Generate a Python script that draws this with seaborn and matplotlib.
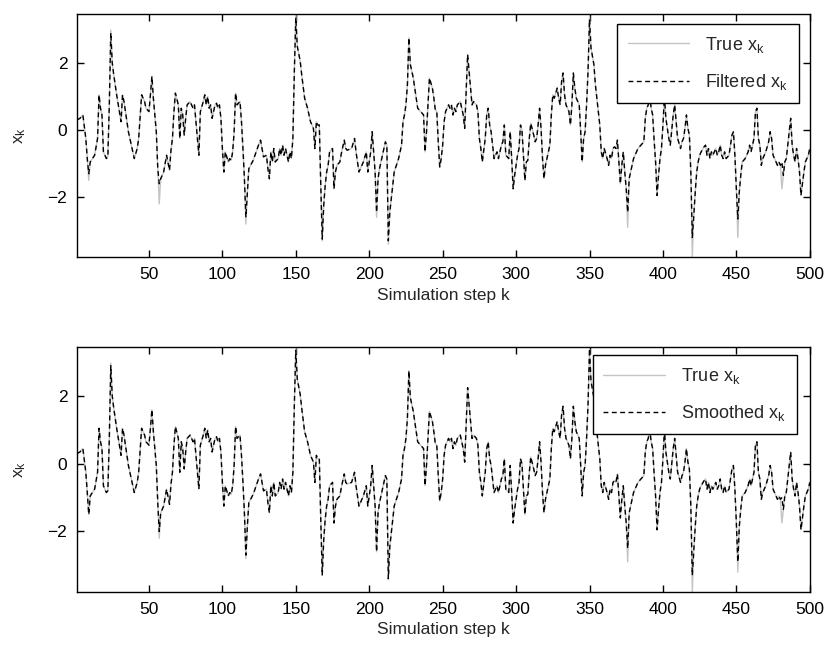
import matplotlib
matplotlib.use("Agg")
import matplotlib.pyplot as plt
import seaborn as sns
import pandas as pd

steps = [
    1, 3, 5, 7, 8, 9, 10, 13, 15, 16,
    17, 18, 19, 21, 22, 23, 24, 25, 26, 28,
    31, 32, 33, 34, 36, 39, 40, 42, 43, 45,
    47, 48, 50, 51, 52, 53, 55, 56, 57, 58,
    60, 62, 64, 65, 66, 67, 68, 70, 71, 72,
    73, 74, 75, 76, 78, 79, 80, 81, 82, 83,
    84, 85, 87, 88, 89, 90, 91, 92, 93, 95,
    96, 97, 98, 99, 100, 101, 102, 104, 105, 106,
    107, 108, 109, 110, 112, 113, 114, 115, 116, 117,
    118, 121, 123, 125, 126, 128, 130, 131, 132, 133,
    134, 135, 136, 138, 139, 140, 141, 142, 143, 145,
    146, 147, 148, 149, 150, 151, 153, 154, 156, 158,
    160, 162, 163, 164, 165, 166, 167, 168, 169, 170,
    171, 172, 173, 175, 176, 177, 178, 180, 181, 183,
    184, 185, 188, 190, 191, 192, 193, 196, 198, 199,
    201, 202, 204, 205, 206, 207, 209, 211, 212, 213,
    214, 216, 217, 220, 222, 223, 224, 225, 226, 227,
    228, 230, 231, 232, 233, 235, 237, 238, 239, 240,
    241, 243, 244, 245, 246, 247, 248, 249, 250, 251,
    252, 254, 255, 256, 257, 258, 259, 260, 262, 263,
    264, 265, 266, 267, 268, 269, 270, 271, 273, 274,
    275, 276, 277, 279, 280, 281, 282, 283, 284, 285,
    287, 288, 289, 290, 291, 292, 293, 295, 296, 297,
    298, 299, 300, 301, 302, 303, 304, 305, 306, 307,
    308, 309, 310, 312, 313, 314, 315, 316, 317, 318,
    319, 320, 321, 323, 324, 325, 326, 328, 329, 330,
    331, 332, 333, 334, 336, 337, 338, 339, 340, 341,
    343, 344, 345, 346, 347, 348, 349, 350, 351, 353,
    354, 356, 357, 358, 359, 360, 362, 363, 364, 365,
    366, 367, 368, 369, 370, 371, 372, 373, 374, 375,
    376, 377, 379, 380, 381, 383, 385, 387, 388, 389,
    390, 391, 392, 393, 394, 395, 396, 397, 398, 399,
    400, 401, 402, 404, 405, 407, 408, 409, 410, 412,
    413, 414, 415, 416, 417, 418, 419, 420, 421, 422,
    423, 424, 425, 426, 428, 429, 430, 431, 432, 433,
    434, 436, 437, 438, 439, 440, 441, 442, 443, 445,
    446, 447, 448, 449, 450, 451, 452, 453, 454, 456,
    458, 459, 460, 462, 463, 464, 465, 466, 467, 468,
    470, 472, 473, 474, 475, 476, 478, 479, 480, 481,
    482, 483, 484, 485, 486, 487, 488, 489, 490, 491,
    492, 493, 494, 496, 497, 499, 500,
]

x_true = [
    0.3, 0.35, 0.45, -0.25, -0.85, -1.5, -0.95, -0.75, -0.25, 1.05,
    0.65, 0.45, -0.65, -0.85, -0.8, 0.75, 2.98, 2.0, 1.65, 1.05,
    0.25, 1.05, 0.85, 0.55, -0.05, -0.65, -0.85, -0.55, -0.25, 1.05,
    0.85, 0.65, 0.55, 1.05, 1.6, 0.95, -0.05, -1.15, -2.2, -1.45,
    -1.25, -0.75, -1.2, -0.6, -0.25, 0.55, 1.1, 0.75, -0.25, 0.65,
    0.45, -0.15, 0.35, 0.75, 0.85, 0.75, 0.65, 0.75, 0.25, -0.25,
    -0.75, 0.55, 0.85, 1.05, 0.75, 1.0, 0.65, 0.75, 0.35, 0.75,
    0.8, 0.65, 0.75, 0.35, -0.55, -1.25, -0.65, -0.95, -0.85, -0.9,
    -0.65, -0.05, 1.1, 0.75, 0.85, 0.25, -0.55, -1.45, -2.8, -1.85,
    -1.15, -0.9, -0.65, -0.4, -0.3, -0.8, -0.75, -1.15, -1.45, -0.65,
    -0.95, -0.55, -0.95, -0.85, -0.55, -0.75, -0.45, -0.75, -0.55, -0.95,
    -0.65, -0.85, -0.25, 1.75, 3.45, 2.5, 2.05, 1.65, 0.95, 0.65,
    0.25, 0.05, -0.55, 0.25, 0.15, 0.15, -1.65, -3.3, -2.25, -1.65,
    -1.25, -1.05, -0.65, -0.55, -1.75, -1.25, -1.05, -0.95, -0.7, -0.3,
    -0.55, -0.6, -0.55, -0.25, -0.65, -0.95, -1.25, -0.95, -0.65, -1.25,
    -0.65, -0.05, -1.25, -2.6, -1.45, -1.15, -0.75, -0.35, -0.45, -3.4,
    -2.45, -1.65, -1.25, -0.85, -0.45, 0.25, 0.45, 0.75, 1.35, 2.75,
    1.95, 1.55, 1.25, 0.95, 0.65, 0.55, 0.45, -0.65, -0.05, 0.75,
    1.55, 1.25, 0.95, 0.6, 0.55, -0.35, -1.1, -0.85, -0.45, 0.25,
    0.55, 0.75, 0.65, 0.75, 0.45, 0.65, 0.55, 0.75, 0.85, 0.65,
    0.45, 0.05, 1.15, 2.25, 1.75, 1.25, 0.75, 0.85, 0.75, 0.55,
    -0.25, -0.55, -0.95, -0.25, 0.45, 0.65, 0.15, -0.05, -0.45, -0.85,
    -0.65, -0.85, -0.65, -0.45, -0.35, 0.15, -0.75, -0.85, -0.05, -0.85,
    -1.75, -1.35, -1.05, -0.75, -0.55, 0.15, 0.0, -0.75, -1.5, -0.95,
    -0.9, -0.25, 0.2, -0.15, -0.35, -0.25, 0.15, 0.65, 0.05, -0.85,
    -1.45, -1.05, -0.85, -0.45, 0.45, 1.05, 0.95, 1.25, 0.95, 0.75,
    1.45, 1.7, 1.05, 0.75, 0.55, 0.15, 0.75, 1.7, 1.25, 0.95,
    0.75, -0.05, -0.95, -0.25, -0.05, 0.75, 1.75, 3.4, 2.45, 1.95,
    1.35, 0.55, 0.15, -0.65, -0.85, -0.55, -0.85, -1.05, -0.75, -0.85,
    -0.55, -0.5, -0.55, -0.3, -0.95, -1.6, -1.05, -0.65, -1.25, -1.75,
    -2.9, -1.45, -1.05, -0.85, -0.75, -0.55, -0.45, -0.35, 0.35, 0.65,
    0.75, 1.0, 0.65, 0.45, -0.3, -0.95, -1.95, -1.35, -0.85, -0.55,
    0.15, 1.0, 0.35, -0.25, -0.45, 0.45, 0.75, 0.25, -0.25, -0.55,
    -0.35, -0.25, 0.05, 0.45, 0.05, -0.15, -1.25, -3.79, -2.55, -1.85,
    -1.25, -0.95, -0.75, -0.65, -0.5, -0.45, -0.75, -0.55, -0.85, -0.65,
    -0.75, -0.55, -0.75, -0.65, -0.45, -0.75, -0.85, -0.65, -0.85, -0.75,
    -0.45, -0.15, -0.05, -0.75, -1.75, -3.2, -1.85, -1.35, -0.95, -0.85,
    -0.65, -0.45, -0.65, -0.25, 0.55, 0.65, -0.25, -0.45, -1.05, -0.85,
    -0.65, -0.35, -0.05, -0.25, -0.75, -0.85, -1.05, -0.95, -1.05, -1.75,
    -1.35, -0.95, -0.85, -0.45, -0.05, 0.35, -0.45, -0.75, -0.95, -0.55,
    -0.85, -1.25, -1.95, -1.25, -0.95, -0.75, -0.55,
]

# where the estimates visibly part from the true trace (step: value)
filtered_diff = {9: -1.3, 24: 2.9, 57: -1.6, 116: -2.6, 150: 3.35, 168: -3.25,
                 205: -2.45, 213: -3.3, 350: 3.3, 376: -2.45, 420: -3.2,
                 451: -2.65, 481: -0.95}
smoothed_diff = {24: 2.9, 57: -2.0, 116: -2.7, 150: 3.35, 376: -2.5,
                 420: -3.3, 451: -2.9, 481: -1.0}

x_filt = [filtered_diff.get(k, v) for k, v in zip(steps, x_true)]
x_smooth = [smoothed_diff.get(k, v) for k, v in zip(steps, x_true)]

df = pd.DataFrame({"k": steps, "true": x_true, "filt": x_filt, "smooth": x_smooth})

sns.set_theme(style="ticks")
plt.rcParams["font.family"] = ["Liberation Sans Narrow", "Liberation Sans", "DejaVu Sans"]
plt.rcParams["mathtext.default"] = "regular"
plt.rcParams["font.size"] = 12

fig = plt.figure(figsize=(8.28, 6.48), dpi=100)
ax1 = fig.add_axes([0.093, 0.603, 0.885, 0.375])
ax2 = fig.add_axes([0.093, 0.0864, 0.885, 0.378])

panels = [(ax1, "filt", "Filtered x$_k$", (0.985, 0.96)),
          (ax2, "smooth", "Smoothed x$_k$", (0.982, 0.967))]

for ax, col, lab, anchor in panels:
    sns.lineplot(data=df, x="k", y="true", ax=ax, color="#c4c4c4", lw=1.0,
                 estimator=None, sort=False, label="True x$_k$")
    sns.lineplot(data=df, x="k", y=col, ax=ax, color="black", lw=1.0,
                 linestyle=(0, (3.5, 2.5)), estimator=None, sort=False, label=lab)
    ax.set_xlim(1, 500)
    ax.set_ylim(min(x_true), max(x_true))
    ax.set_xticks(range(50, 501, 50))
    ax.set_yticks([-2, 0, 2])
    ax.tick_params(direction="in", length=5, top=True, right=True,
                   labelsize=12.5, colors="black", width=1, pad=7)
    for s in ax.spines.values():
        s.set_visible(True)
        s.set_color("black")
        s.set_linewidth(1)
    ax.set_xlabel("Simulation step k", fontsize=12.5, labelpad=4)
    ax.set_ylabel("x$_k$", fontsize=12.5, labelpad=14)
    leg = ax.legend(loc="upper right", bbox_to_anchor=anchor, borderaxespad=0,
                    fontsize=13, frameon=True, fancybox=False, framealpha=1,
                    edgecolor="black", handlelength=3.4, labelspacing=0.95,
                    borderpad=0.6, handletextpad=0.9)
    leg.get_frame().set_linewidth(1)

fig.savefig("out.png", dpi=100)
